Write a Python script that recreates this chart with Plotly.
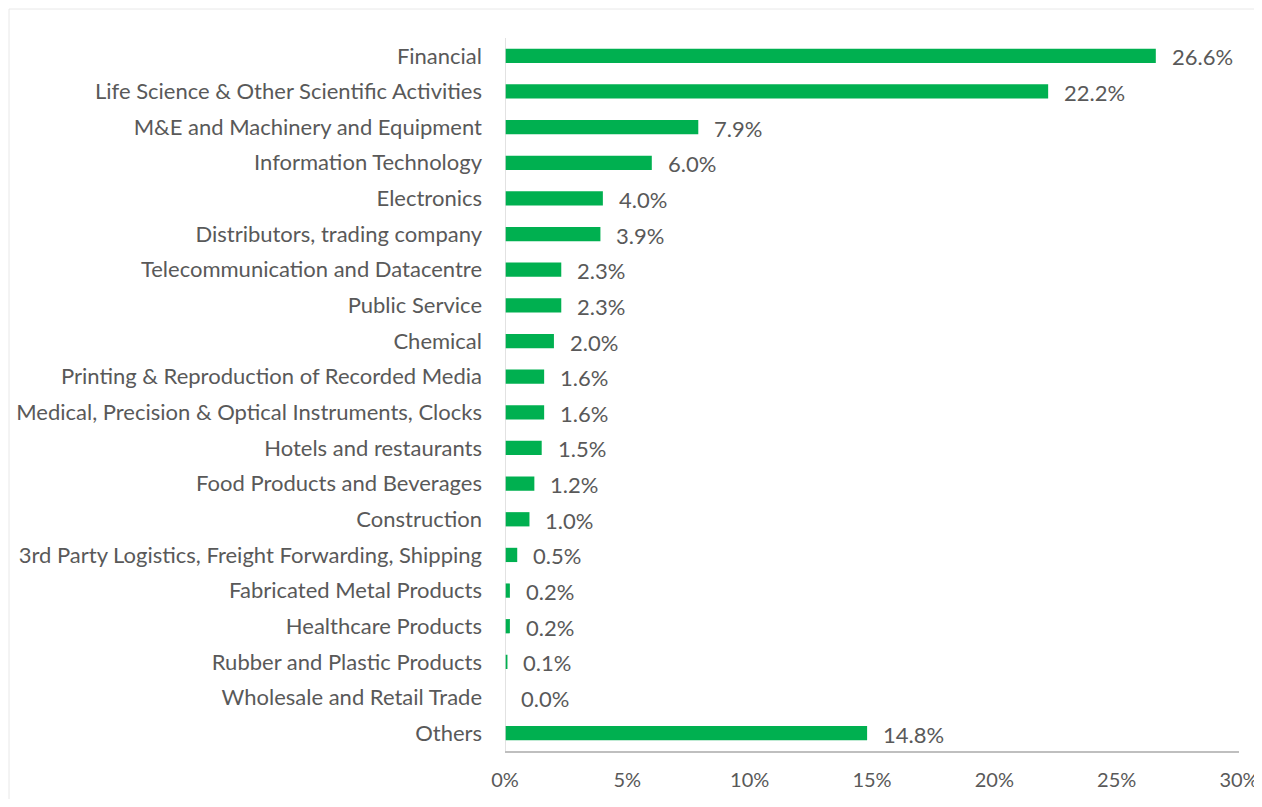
import plotly.graph_objects as go

categories = [
    "Financial",
    "Life Science & Other Scientific Activities",
    "M&E and Machinery and Equipment",
    "Information Technology",
    "Electronics",
    "Distributors, trading company",
    "Telecommunication and Datacentre",
    "Public Service",
    "Chemical",
    "Printing & Reproduction of Recorded Media",
    "Medical, Precision & Optical Instruments, Clocks",
    "Hotels and restaurants",
    "Food Products and Beverages",
    "Construction",
    "3rd Party Logistics, Freight Forwarding, Shipping",
    "Fabricated Metal Products",
    "Healthcare Products",
    "Rubber and Plastic Products",
    "Wholesale and Retail Trade",
    "Others",
]
values = [26.6, 22.2, 7.9, 6.0, 4.0, 3.9, 2.3, 2.3, 2.0, 1.6, 1.6, 1.5, 1.2, 1.0, 0.5, 0.2, 0.2, 0.1, 0.0, 14.8]
tick_vals = [0, 5, 10, 15, 20, 25, 30]
tick_text = ["0%", "5%", "10%", "15%", "20%", "25%", "30%"]

FONT = "Lato, 'Open Sans', sans-serif"
TXT = "#595959"
FS = 22

# figure is placed at (8, 8) on the page by the browser's default body margin
W, H = 1254, 791
L, T = 497, 30
PW = 734   # plot width
PH = 713   # plot height

fig = go.Figure()
fig.add_trace(go.Bar(
    x=values, y=categories, orientation="h",
    marker=dict(color="#00B050", line=dict(width=0)),
    width=0.4, hoverinfo="x+y",
))

for c, v in zip(categories, values):
    fig.add_annotation(x=v, y=c, text=f"{v:.1f}%", showarrow=False,
                       xanchor="left", yanchor="middle", xshift=14, yshift=-1,
                       font=dict(family=FONT, size=FS, color=TXT))

# left vertical line at 0
fig.add_shape(type="line", xref="x", yref="paper", x0=0, x1=0, y0=0, y1=1,
              line=dict(color="#d9d9d9", width=1.5))
# faint chart border
fig.add_shape(type="rect", xref="paper", yref="paper",
              x0=(1 - L) / PW, x1=(W + 20 - L) / PW,
              y0=-(80) / PH, y1=1 + (T - 1) / PH,
              line=dict(color="#e8e8e8", width=1))

fig.update_layout(
    width=W, height=H,
    margin=dict(l=L, r=W - L - PW, t=T, b=H - T - PH, autoexpand=False),
    paper_bgcolor="white", plot_bgcolor="white",
    showlegend=False,
    font=dict(family=FONT, size=FS, color=TXT),
    xaxis=dict(range=[0, 30], tickvals=tick_vals, ticktext=tick_text,
               tickfont=dict(size=20),
               showgrid=False, zeroline=False, showline=True,
               linecolor="#bfbfbf", linewidth=1.5, ticks="",
               ticklabelstandoff=10, fixedrange=True, automargin=False),
    yaxis=dict(autorange="reversed", showgrid=False, zeroline=False,
               showline=False, ticks="", ticklabelstandoff=22,
               fixedrange=True, automargin=False),
    bargap=0.6,
)

fig.write_html("out.html")
